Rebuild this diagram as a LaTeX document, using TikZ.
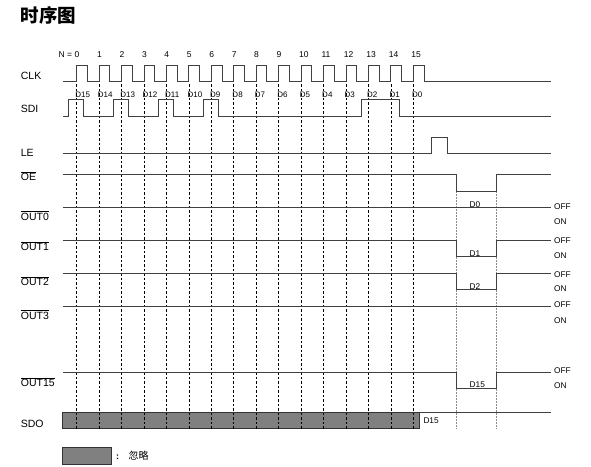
\documentclass[tikz,border=0pt]{standalone}
\usepackage{fontspec}
\setmainfont{Liberation Sans}
\newfontfamily\cjk{Noto Sans CJK SC}
\begin{document}
\begin{tikzpicture}[x=1pt,y=-1pt,
  sig/.style={draw=black!75,line width=0.9pt},
  grid/.style={draw=black,line width=0.7pt,dash pattern=on 2.5pt off 2pt},
  dotgrid/.style={draw=black!45,line width=0.9pt,dash pattern=on 1.5pt off 1.5pt},
  lbl/.style={anchor=base west,inner sep=0pt,font=\fontsize{10.5}{12}\selectfont},
  small/.style={inner sep=0pt,font=\fontsize{8.3}{10}\selectfont},
  ignore/.style={fill=black!50,draw=black!80,line width=0.9pt}]
\def\xo{76.7}
\def\p{22.44}
\path[use as bounding box] (0,0) rectangle (591,466);
% title
\node[anchor=west,inner sep=0pt,font=\cjk\bfseries\fontsize{18.5}{20}\selectfont] (title) at (20.7,15) {时序图};
% SDO ignored region (below grid)
\path[ignore] (62.7,412.7) rectangle (419,428.7);
% vertical dashed grid
\foreach \k in {0,...,15}{
  \draw[grid] ({\xo+\k*\p},84) -- ({\xo+\k*\p},428.7);
}
\draw[dotgrid] (456.7,191) -- (456.7,428.7);
\draw[dotgrid] (496,191) -- (496,428.7);
% N labels
\node[small,anchor=base east,font=\fontsize{8.5}{10}\selectfont] (n0) at (79.5,57.5) {N = 0};
\foreach \k in {1,...,15}{
  \node[small,anchor=base west,font=\fontsize{8.5}{10}\selectfont] (n\k) at ({\xo+\k*\p-2.2},57.5) {\k};
}
% data labels
\foreach \k [evaluate=\k as \d using int(15-\k)] in {0,...,15}{
  \node[small,anchor=base west,font=\fontsize{8}{10}\selectfont] (d\k) at ({\xo+\k*\p-1.5},97.3) {D\d};
}
% CLK
\draw[sig] (63.3,81) \foreach \k in {0,...,15}{
  -- ({\xo+\k*\p},81) -- ({\xo+\k*\p},65.7) -- ({\xo+\k*\p+10.7},65.7) -- ({\xo+\k*\p+10.7},81)} -- (550.7,81);
% SDI
\draw[sig] (63.3,116.7) \foreach \k in {0,2,4,6}{
  -- ({\xo+\k*\p-8},116.7) -- ({\xo+\k*\p-8},99.3) -- ({\xo+\k*\p+7},99.3) -- ({\xo+\k*\p+7},116.7)}
  -- ({\xo+13*\p-7},116.7) -- ({\xo+13*\p-7},99.3) -- ({\xo+14*\p+8.5},99.3) -- ({\xo+14*\p+8.5},116.7) -- (550.7,116.7);
% LE
\draw[sig] (62.7,153.7) -- (431.7,153.7) -- (431.7,137.7) -- (447.7,137.7) -- (447.7,153.7) -- (550.7,153.7);
% OE
\draw[sig] (62.7,174.3) -- (456.7,174.3) -- (456.7,191) -- (496,191) -- (496,174.3) -- (550.7,174.3);
% OUT0
\draw[sig] (62.7,207.3) -- (550.7,207.3);
% OUT1
\draw[sig] (62.7,240.7) -- (456.7,240.7) -- (456.7,256) -- (496,256) -- (496,240.7) -- (550.7,240.7);
% OUT2
\draw[sig] (62.7,273.7) -- (456.7,273.7) -- (456.7,289.3) -- (496,289.3) -- (496,273.7) -- (550.7,273.7);
% OUT3
\draw[sig] (62.7,306.7) -- (550.7,306.7);
% OUT15
\draw[sig] (62.7,372) -- (456.7,372) -- (456.7,388.3) -- (496,388.3) -- (496,372) -- (550.7,372);
% SDO
\draw[sig] (419,412.7) -- (550.7,412.7);
% left labels
\node[lbl] (lclk) at (20.7,79) {CLK};
\node[lbl] (lsdi) at (20.7,112) {SDI};
\node[lbl] (lle) at (20.7,156.7) {LE};
\node[lbl] (loe) at (20.7,180.5) {$\overline{\mbox{OE}}$};
\node[lbl] (lo0) at (20.7,220) {$\overline{\mbox{OUT0}}$};
\node[lbl] (lo1) at (20.7,250.7) {$\overline{\mbox{OUT1}}$};
\node[lbl] (lo2) at (20.7,285.7) {$\overline{\mbox{OUT2}}$};
\node[lbl] (lo3) at (20.7,319) {$\overline{\mbox{OUT3}}$};
\node[lbl] (lo15) at (20.7,386.7) {$\overline{\mbox{OUT15}}$};
\node[lbl] (lsdo) at (20.7,427) {SDO};
% D labels at right
\node[small,anchor=base] (r0) at (475,207) {D0};
\node[small,anchor=base] (r1) at (475,256.3) {D1};
\node[small,anchor=base] (r2) at (475,289.7) {D2};
\node[small,anchor=base] (r15) at (477.3,387.3) {D15};
\node[small,anchor=base west] (sdo15) at (423.3,423) {D15};
% OFF / ON
\foreach \n/\a/\b in {0/209.7/224,1/243/258,2/277/291.7,3/307/323.7,15/373.7/388.7}{
  \node[small,anchor=base west] (off\n) at (554,\a) {OFF};
  \node[small,anchor=base west] (on\n) at (554,\b) {ON};
}
% legend
\path[ignore] (62.7,447.3) rectangle (111,464);
\node[anchor=base west,inner sep=0pt,font=\bfseries\fontsize{9}{10}\selectfont] (colon) at (116,459) {:};
\node[anchor=west,inner sep=0pt,font=\cjk\fontsize{10}{12}\selectfont] (ign) at (128.3,455.7) {忽略};
\end{tikzpicture}
\end{document}
